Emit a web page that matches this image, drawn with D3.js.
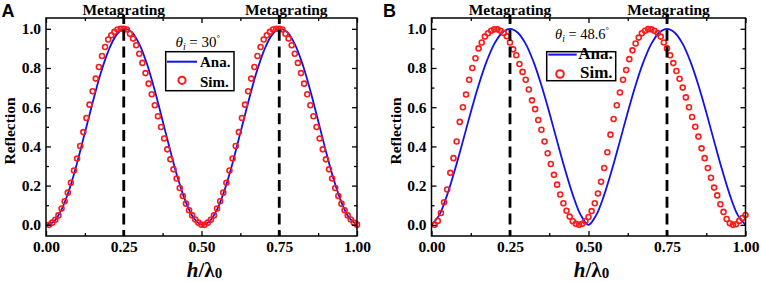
<!DOCTYPE html>
<html>
<head>
<meta charset="utf-8">
<script src="https://cdn.jsdelivr.net/npm/d3@7"></script>
<style>
  html, body { margin: 0; padding: 0; background: #fff; }
  svg { display: block; }
  svg text, svg .tick text { font-family: 'Liberation Serif', 'DejaVu Serif', 'Times New Roman', serif; }
  svg text.letter { font-family: 'Liberation Sans', Arial, sans-serif; }
</style>
</head>
<body>
<div id="chart"></div>
<script>
// tick values and labels
const xTicks = [0, 0.25, 0.5, 0.75, 1];
const xTickLabels = ["0.00", "0.25", "0.50", "0.75", "1.00"];
const xMinorTicks = [0.125, 0.375, 0.625, 0.875];
const yTicks = [0, 0.2, 0.4, 0.6, 0.8, 1.0];
const yTickLabels = ["0.0", "0.2", "0.4", "0.6", "0.8", "1.0"];
const yMinorTicks = [0.1, 0.3, 0.5, 0.7, 0.9];
const markerPositions = [0.25, 0.75];
const markerLabel = "Metagrating";
const seriesNames = ["Ana.", "Sim."];

// analytical curve, read at h = 0, 0.025, ... 1
const anaH = [0, 0.025, 0.05, 0.075, 0.1, 0.125, 0.15, 0.175, 0.2, 0.225, 0.25,
  0.275, 0.3, 0.325, 0.35, 0.375, 0.4, 0.425, 0.45, 0.475, 0.5,
  0.525, 0.55, 0.575, 0.6, 0.625, 0.65, 0.675, 0.7, 0.725, 0.75,
  0.775, 0.8, 0.825, 0.85, 0.875, 0.9, 0.925, 0.95, 0.975, 1];
const anaA = [0.001, 0.016, 0.078, 0.181, 0.316, 0.469, 0.624, 0.768, 0.885, 0.965, 0.999,
  0.984, 0.922, 0.819, 0.684, 0.531, 0.376, 0.232, 0.115, 0.035, 0.001,
  0.016, 0.078, 0.181, 0.316, 0.469, 0.624, 0.768, 0.885, 0.965, 0.999,
  0.984, 0.922, 0.819, 0.684, 0.531, 0.376, 0.232, 0.115, 0.035, 0.001];
const anaB = [0, 0.051, 0.153, 0.283, 0.427, 0.574, 0.712, 0.831, 0.923, 0.98, 1,
  0.98, 0.923, 0.831, 0.712, 0.574, 0.427, 0.283, 0.153, 0.051, 0,
  0.051, 0.153, 0.283, 0.427, 0.574, 0.712, 0.831, 0.923, 0.98, 1,
  0.98, 0.923, 0.831, 0.712, 0.574, 0.427, 0.283, 0.153, 0.051, 0];

// simulated points, h = 0.01 ... 1.00
const simH = [0.01, 0.02, 0.03, 0.04, 0.05, 0.06, 0.07, 0.08, 0.09, 0.1,
  0.11, 0.12, 0.13, 0.14, 0.15, 0.16, 0.17, 0.18, 0.19, 0.2,
  0.21, 0.22, 0.23, 0.24, 0.25, 0.26, 0.27, 0.28, 0.29, 0.3,
  0.31, 0.32, 0.33, 0.34, 0.35, 0.36, 0.37, 0.38, 0.39, 0.4,
  0.41, 0.42, 0.43, 0.44, 0.45, 0.46, 0.47, 0.48, 0.49, 0.5,
  0.51, 0.52, 0.53, 0.54, 0.55, 0.56, 0.57, 0.58, 0.59, 0.6,
  0.61, 0.62, 0.63, 0.64, 0.65, 0.66, 0.67, 0.68, 0.69, 0.7,
  0.71, 0.72, 0.73, 0.74, 0.75, 0.76, 0.77, 0.78, 0.79, 0.8,
  0.81, 0.82, 0.83, 0.84, 0.85, 0.86, 0.87, 0.88, 0.89, 0.9,
  0.91, 0.92, 0.93, 0.94, 0.95, 0.96, 0.97, 0.98, 0.99, 1];
const simA = [0, 0.011, 0.026, 0.048, 0.083, 0.12, 0.164, 0.215, 0.277, 0.338,
  0.402, 0.473, 0.545, 0.613, 0.681, 0.746, 0.805, 0.861, 0.907, 0.945,
  0.967, 0.984, 0.996, 1, 1, 0.996, 0.975, 0.95, 0.916, 0.873,
  0.826, 0.774, 0.72, 0.666, 0.61, 0.554, 0.499, 0.44, 0.385, 0.334,
  0.283, 0.236, 0.188, 0.147, 0.108, 0.074, 0.048, 0.027, 0.011, 0.001,
  0, 0.011, 0.026, 0.048, 0.083, 0.12, 0.164, 0.215, 0.277, 0.338,
  0.402, 0.473, 0.545, 0.613, 0.681, 0.746, 0.805, 0.861, 0.907, 0.945,
  0.967, 0.984, 0.996, 1, 1, 0.996, 0.975, 0.95, 0.916, 0.873,
  0.826, 0.774, 0.72, 0.666, 0.61, 0.554, 0.499, 0.44, 0.385, 0.334,
  0.283, 0.236, 0.188, 0.147, 0.108, 0.074, 0.048, 0.027, 0.011, 0.001];
const simB = [0, 0.02, 0.06, 0.115, 0.18, 0.265, 0.34, 0.425, 0.525, 0.6,
  0.665, 0.74, 0.8, 0.85, 0.9, 0.93, 0.96, 0.977, 0.99, 0.997,
  0.997, 0.99, 0.978, 0.962, 0.93, 0.895, 0.865, 0.82, 0.78, 0.74,
  0.69, 0.635, 0.59, 0.535, 0.485, 0.425, 0.365, 0.31, 0.255, 0.205,
  0.155, 0.11, 0.072, 0.042, 0.018, 0.005, 0, 0.005, 0.018, 0.04,
  0.07, 0.11, 0.16, 0.22, 0.29, 0.37, 0.46, 0.54, 0.61, 0.675,
  0.74, 0.79, 0.845, 0.89, 0.925, 0.955, 0.977, 0.99, 0.998, 0.997,
  0.99, 0.978, 0.96, 0.93, 0.9, 0.865, 0.825, 0.785, 0.745, 0.7,
  0.65, 0.6, 0.55, 0.5, 0.45, 0.39, 0.34, 0.29, 0.24, 0.19,
  0.15, 0.105, 0.066, 0.03, 0.008, 0, 0.003, 0.02, 0.035, 0.05];

const width = 761;
const height = 282;
const blue = "#1010f0";
const red = "#ff1a1a";

const svg = d3
  .select("#chart")
  .append("svg")
  .attr("width", width)
  .attr("height", height)
  .attr("viewBox", [0, 0, width, height]);

const panels = [
  {
    letter: "A", letterX: 1.5,
    left: 46, right: 357, top: 18, bottom: 236,
    ana: anaA, sim: simA, angle: "30",
    labelShift: [0, 7],
    legend: {
      box: [165.7, 51.7, 68.3, 39], font: 15,
      line: [167, 197, 61.7], anaText: [200, 66.6],
      circle: [182, 80.3, 3.6], simText: [200, 86.8],
      title: [175.5, 46.5], titleFont: 15,
    },
  },
  {
    letter: "B", letterX: 383,
    left: 431.5, right: 745.5, top: 18, bottom: 236,
    ana: anaB, sim: simB, angle: "48.6",
    labelShift: [0, 1.5],
    legend: {
      box: [546.7, 51.7, 69, 29], font: 17,
      line: [548.3, 576.7, 54.6], anaText: [578.3, 59.4],
      circle: [560, 74, 3.8], simText: [580, 78.4],
      title: [555, 38.5], titleFont: 14.5,
    },
  },
];

panels.forEach((p) => renderPanel(p));

function renderPanel(p) {
  const x = d3.scaleLinear().domain([0, 1]).range([p.left, p.right]);
  const y = d3.scaleLinear().domain([-0.057, 1.055]).range([p.bottom, p.top]);
  const g = svg.append("g").attr("class", `panel panel-${p.letter}`);

  // analytical curve
  g.append("path")
    .datum(anaH.map((h, i) => [h, p.ana[i]]))
    .attr("fill", "none")
    .attr("stroke", blue)
    .attr("stroke-width", 1.8)
    .attr(
      "d",
      d3.line().x((d) => x(d[0])).y((d) => y(d[1])).curve(d3.curveCatmullRom)
    );

  // simulated points
  g.append("g")
    .selectAll("circle")
    .data(simH.map((h, i) => [h, p.sim[i]]))
    .join("circle")
    .attr("cx", (d) => x(d[0]))
    .attr("cy", (d) => y(d[1]))
    .attr("r", 2.5)
    .attr("fill", "none")
    .attr("stroke", red)
    .attr("stroke-width", 1.6);

  // metagrating markers
  g.append("g")
    .selectAll("line")
    .data(markerPositions)
    .join("line")
    .attr("x1", (d) => x(d))
    .attr("x2", (d) => x(d))
    .attr("y1", p.top - 3)
    .attr("y2", p.bottom)
    .attr("stroke", "#000")
    .attr("stroke-width", 2.8)
    .attr("stroke-dasharray", "11 5.7")
    .attr("stroke-dashoffset", 2);

  g.append("g")
    .selectAll("text")
    .data(markerPositions)
    .join("text")
    .attr("x", (d, i) => x(d) + p.labelShift[i])
    .attr("y", 15)
    .attr("text-anchor", "middle")
    .style("font-weight", "bold")
    .style("font-size", "15.5px")
    .text(markerLabel);

  // axes, ticks pointing inward on all four sides
  const styleAxis = (ax) =>
    ax
      .attr("font-family", null)
      .attr("font-size", null)
      .call((a) => a.select(".domain").remove())
      .call((a) => a.selectAll(".tick line").attr("stroke-width", 1.3))
      .call((a) =>
        a.selectAll(".tick text")
          .style("font-size", "15.5px")
          .style("font-weight", "bold")
      );

  g.append("g")
    .attr("transform", `translate(0,${p.bottom})`)
    .call(
      d3.axisBottom(x).tickValues(xTicks)
        .tickFormat((d, i) => xTickLabels[i])
        .tickSizeInner(-5).tickSizeOuter(0).tickPadding(5.3)
    )
    .call(styleAxis);
  g.append("g")
    .attr("transform", `translate(0,${p.bottom})`)
    .call(d3.axisBottom(x).tickValues(xMinorTicks).tickFormat("").tickSizeInner(-3).tickSizeOuter(0))
    .call(styleAxis);
  g.append("g")
    .attr("transform", `translate(0,${p.top})`)
    .call(d3.axisTop(x).tickValues(xTicks).tickFormat("").tickSizeInner(-5).tickSizeOuter(0))
    .call(styleAxis);
  g.append("g")
    .attr("transform", `translate(0,${p.top})`)
    .call(d3.axisTop(x).tickValues(xMinorTicks).tickFormat("").tickSizeInner(-3).tickSizeOuter(0))
    .call(styleAxis);

  g.append("g")
    .attr("transform", `translate(${p.left},0)`)
    .call(
      d3.axisLeft(y).tickValues(yTicks)
        .tickFormat((d, i) => yTickLabels[i])
        .tickSizeInner(-5).tickSizeOuter(0).tickPadding(5)
    )
    .call(styleAxis);
  g.append("g")
    .attr("transform", `translate(${p.left},0)`)
    .call(d3.axisLeft(y).tickValues(yMinorTicks).tickFormat("").tickSizeInner(-3).tickSizeOuter(0))
    .call(styleAxis);
  g.append("g")
    .attr("transform", `translate(${p.right},0)`)
    .call(d3.axisRight(y).tickValues(yTicks).tickFormat("").tickSizeInner(-5).tickSizeOuter(0))
    .call(styleAxis);
  g.append("g")
    .attr("transform", `translate(${p.right},0)`)
    .call(d3.axisRight(y).tickValues(yMinorTicks).tickFormat("").tickSizeInner(-3).tickSizeOuter(0))
    .call(styleAxis);

  // frame
  g.append("rect")
    .attr("x", p.left)
    .attr("y", p.top)
    .attr("width", p.right - p.left)
    .attr("height", p.bottom - p.top)
    .attr("fill", "none")
    .attr("stroke", "#000")
    .attr("stroke-width", 1.5);

  // axis titles
  g.append("text")
    .attr("transform", `translate(${p.left - 31},${(p.top + p.bottom) / 2 + 4}) rotate(-90)`)
    .attr("text-anchor", "middle")
    .style("font-weight", "bold")
    .style("font-size", "15.5px")
    .text("Reflection");

  const xTitle = g.append("text")
    .attr("x", (p.left + p.right) / 2 + 3)
    .attr("y", 277)
    .attr("text-anchor", "middle")
    .style("font-weight", "bold")
    .style("font-size", "21px");
  xTitle.append("tspan").style("font-style", "italic").text("h");
  xTitle.append("tspan").text("/λ");
  xTitle.append("tspan").style("font-size", "15px").attr("dy", 1).text("0");

  // panel letter
  g.append("text")
    .attr("class", "letter")
    .attr("x", p.letterX)
    .attr("y", 16.7)
    .style("font-weight", "bold")
    .style("font-size", "18px")
    .text(p.letter);

  renderLegend(g, p);
}

function renderLegend(g, p) {
  const L = p.legend;
  const lg = g.append("g").attr("class", "legend");

  const title = lg.append("text")
    .attr("x", L.title[0])
    .attr("y", L.title[1])
    .style("font-size", `${L.titleFont}px`);
  title.append("tspan").style("font-style", "italic").text("θ");
  title.append("tspan").style("font-style", "italic").style("font-size", `${L.titleFont * 0.65}px`).attr("dy", 3).text("i");
  title.append("tspan").attr("dy", -3).text(` = ${p.angle}`);
  title.append("tspan").style("font-size", `${L.titleFont * 0.6}px`).attr("dy", -6).text("°");

  lg.append("rect")
    .attr("x", L.box[0])
    .attr("y", L.box[1])
    .attr("width", L.box[2])
    .attr("height", L.box[3])
    .attr("fill", "#fff")
    .attr("stroke", "#000")
    .attr("stroke-width", 1.5);

  lg.append("line")
    .attr("x1", L.line[0])
    .attr("x2", L.line[1])
    .attr("y1", L.line[2])
    .attr("y2", L.line[2])
    .attr("stroke", blue)
    .attr("stroke-width", 2);

  lg.append("circle")
    .attr("cx", L.circle[0])
    .attr("cy", L.circle[1])
    .attr("r", L.circle[2])
    .attr("fill", "none")
    .attr("stroke", red)
    .attr("stroke-width", 2);

  lg.selectAll(".legend-label")
    .data([L.anaText, L.simText])
    .join("text")
    .attr("class", "legend-label")
    .attr("x", (d) => d[0])
    .attr("y", (d) => d[1])
    .style("font-weight", "bold")
    .style("font-size", `${L.font}px`)
    .text((d, i) => seriesNames[i]);
}
</script>
</body>
</html>
